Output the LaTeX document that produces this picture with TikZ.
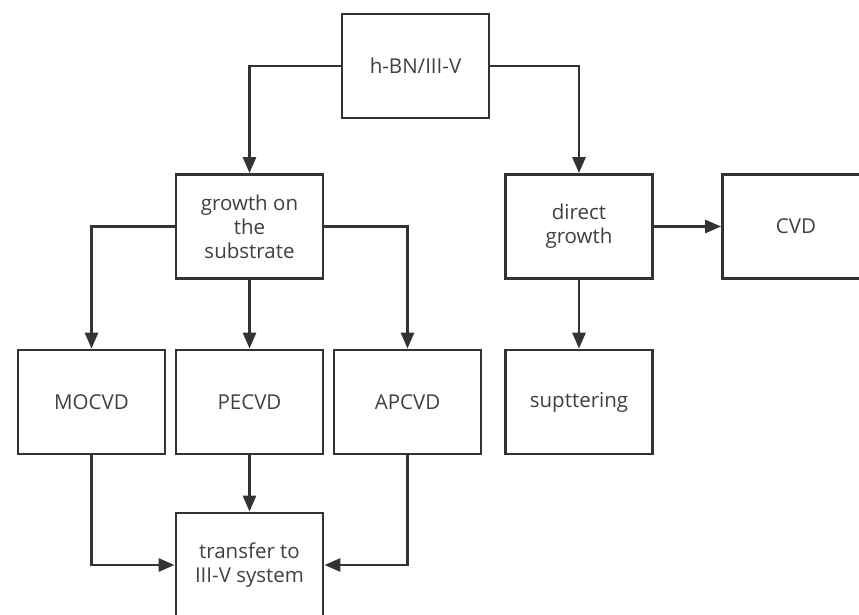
\documentclass[tikz,border=0pt]{standalone}
\usepackage{fontspec}
\setmainfont{Open Sans}
\usetikzlibrary{arrows.meta}
\definecolor{linec}{HTML}{333333}
\definecolor{textc}{HTML}{404040}
\tikzset{
  box/.style={draw=linec, line width=2.8pt, fill=white, minimum width=147pt, minimum height=104pt,
    inner sep=2pt, align=center, text=textc, font=\fontsize{20.5}{24}\selectfont},
  link/.style={draw=linec, line width=2.8pt, -{Triangle[length=16pt,width=13pt]}}
}
\begin{document}
\begin{tikzpicture}[x=1pt,y=-1pt]
\useasboundingbox (0,0) rectangle (859,615);
\node[box] (hbn) at (415.5,66) {h-BN/III-V};
\node[box] (growth) at (249.5,226.5) {growth on\\the\\substrate};
\node[box] (direct) at (579,226.5) {direct\\growth};
\node[box] (cvd) at (796,226.5) {CVD};
\node[box] (mocvd) at (91.5,402) {MOCVD};
\node[box] (pecvd) at (249.5,402) {PECVD};
\node[box] (apcvd) at (407.5,402) {APCVD};
\node[box] (sput) at (579,402) {supttering};
\node[box] (transfer) at (249.5,565) {transfer to\\III-V system};
\draw[link] (hbn.west) -| (growth.north);
\draw[link] (hbn.east) -| (direct.north);
\draw[link] (growth.west) -| (mocvd.north);
\draw[link] (growth.south) -- (pecvd.north);
\draw[link] (growth.east) -| (apcvd.north);
\draw[link] (direct.east) -- (cvd.west);
\draw[link] (direct.south) -- (sput.north);
\draw[link] (mocvd.south) |- (transfer.west);
\draw[link] (pecvd.south) -- (transfer.north);
\draw[link] (apcvd.south) |- (transfer.east);
\end{tikzpicture}
\end{document}
